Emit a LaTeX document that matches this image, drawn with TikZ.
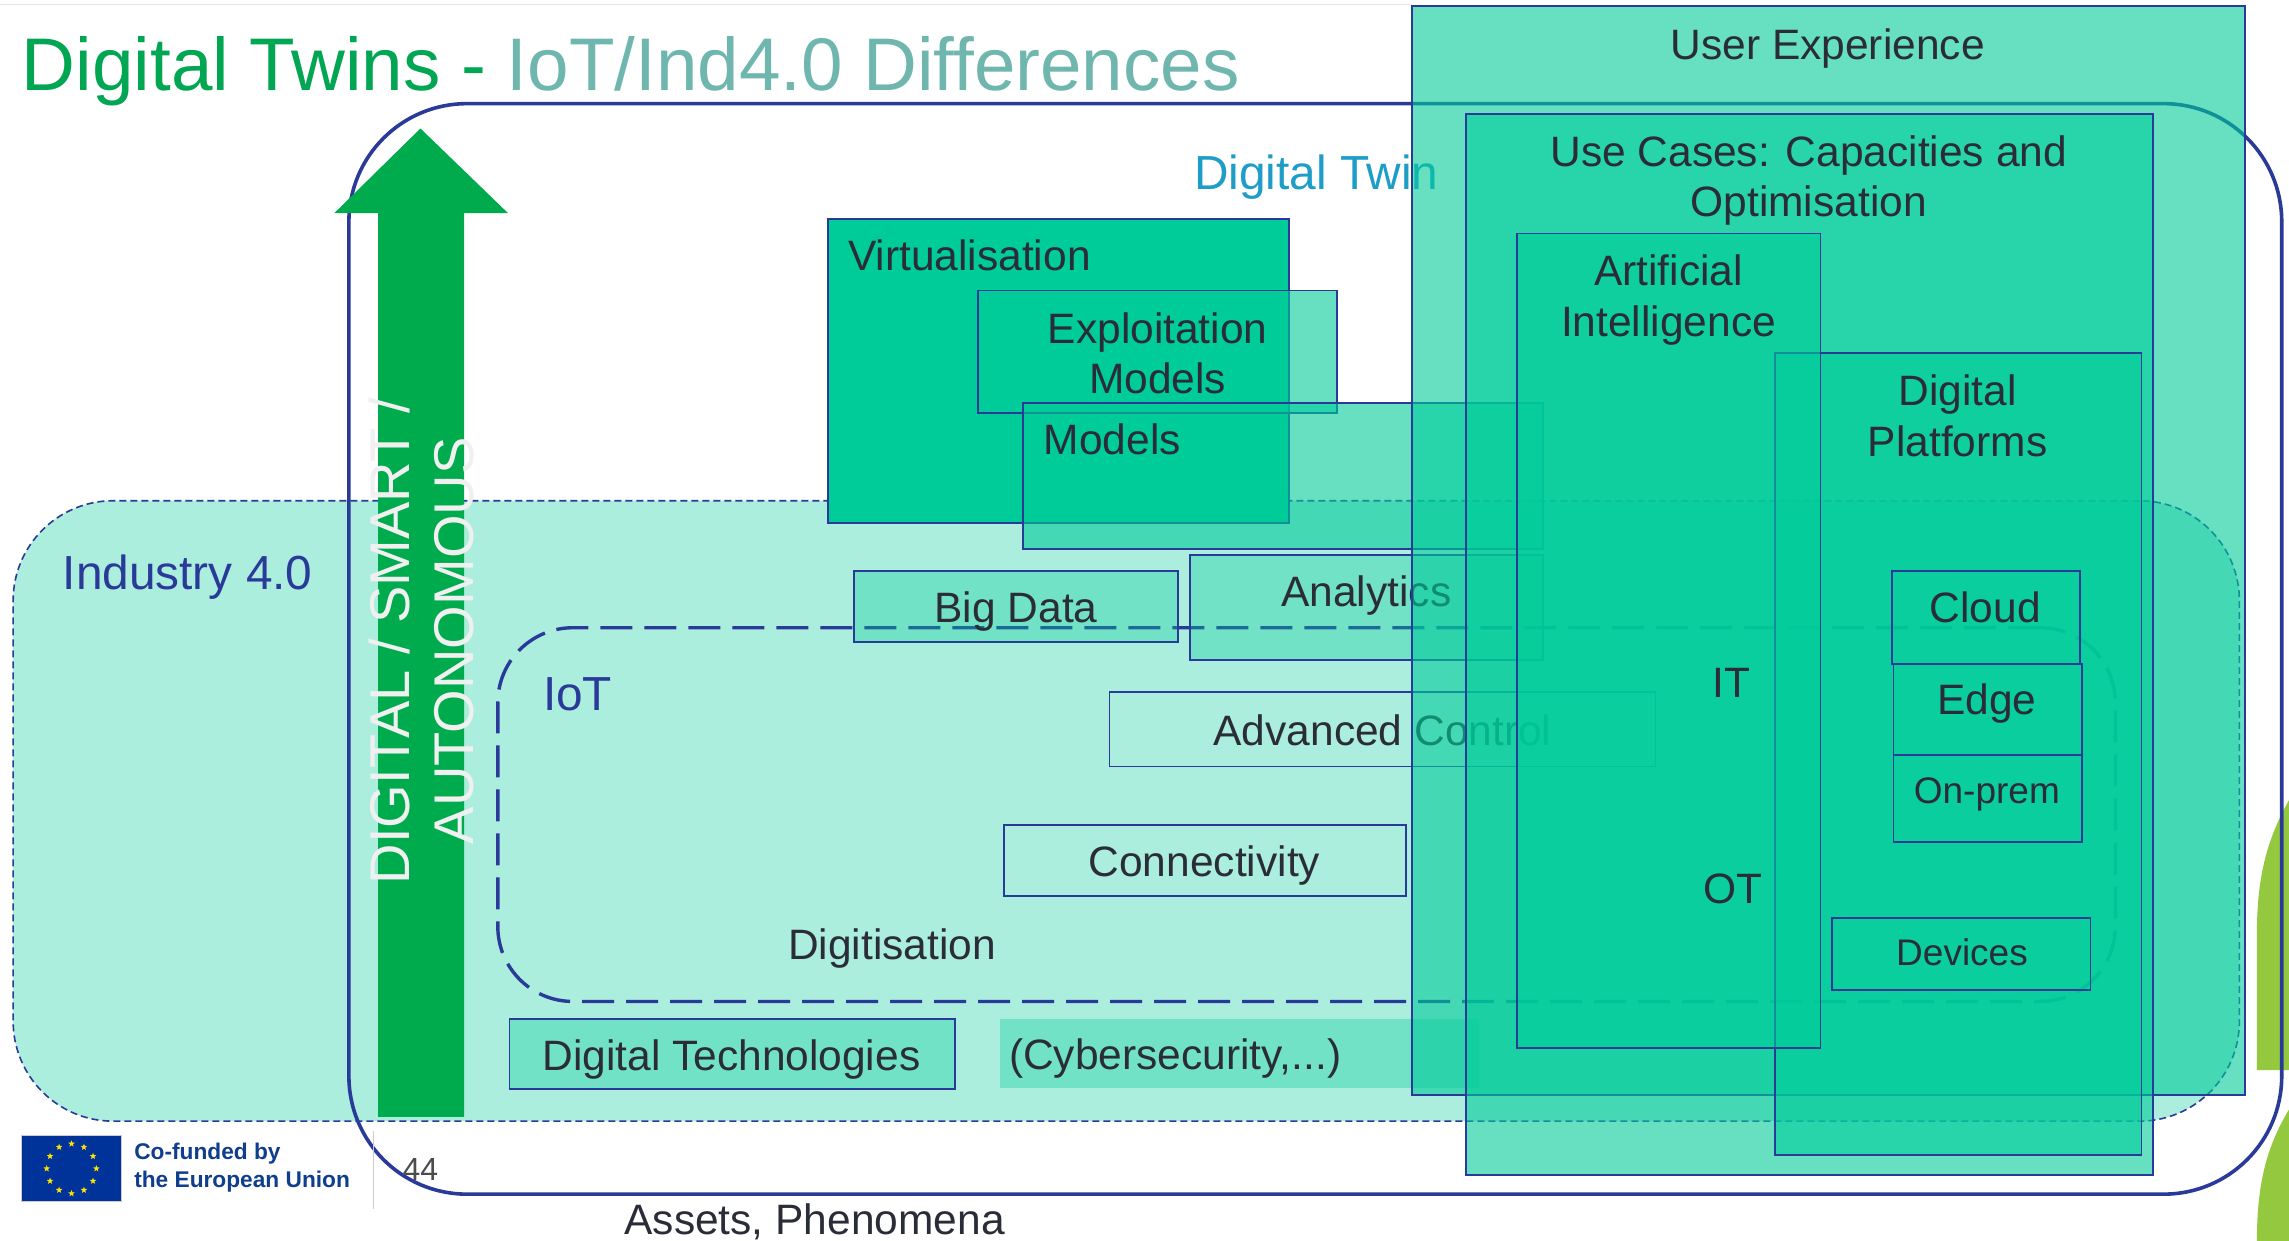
\documentclass[tikz,border=0pt]{standalone}
\usepackage{fontspec}
\setmainfont{Liberation Sans}
\usetikzlibrary{shapes.geometric}
\definecolor{tealfill}{HTML}{00CC99}
\definecolor{indfill}{HTML}{ABEEDD}
\definecolor{navy}{HTML}{2A3A98}
\definecolor{ink}{HTML}{2A2D38}
\definecolor{arrowgreen}{HTML}{00AB4E}
\definecolor{leaf}{HTML}{93C83F}
\definecolor{titlegreen}{HTML}{00A651}
\definecolor{titleteal}{HTML}{6FB7AE}
\definecolor{twinblue}{HTML}{1E9DC8}
\definecolor{eublue}{HTML}{003399}
\definecolor{eutext}{HTML}{103E8F}
\newcommand{\fsz}[1]{\fontsize{#1}{#1}\selectfont}
\newcommand{\bx}[6]{% name,x0,y0,x1,y1,style
  \pgfmathsetmacro{\bw}{(#4-#2)*1.4598}\pgfmathsetmacro{\bh}{(#5-#3)*1.4598}
  \node[#6,anchor=north west,minimum width=\bw pt,minimum height=\bh pt] (#1) at (#2,#3) {};}
\tikzset{
  x=1.4598pt,y=-1.4598pt,
  every node/.style={inner sep=0pt,outer sep=0pt},
  boxline/.style={draw=navy,line width=1.8pt},
  solidbox/.style={boxline,fill=tealfill},
  glassbox/.style={boxline,fill=tealfill,fill opacity=0.6},
  softbox/.style={boxline,fill=tealfill,fill opacity=0.33},
  openbox/.style={boxline},
  lab/.style={text=ink,align=center,font=\fontsize{42.5}{50.5}\selectfont},
  smalllab/.style={text=ink,align=center,font=\fsz{37}},
}
\begin{document}
\begin{tikzpicture}
\useasboundingbox (0,0) rectangle (1568,850);
\fill[white] (0,0) rectangle (1568,850);
\draw[black!10,line width=1pt] (0,3) -- (967,3);
% decorative leaves
\fill[leaf] (1568,548) .. controls (1553,575) and (1546,600) .. (1546,640) -- (1546,733) -- (1568,733) -- cycle;
\fill[leaf] (1568,760) .. controls (1553,785) and (1546,810) .. (1546,850) -- (1568,850) -- cycle;
% Industry 4.0
\bx{ind}{9}{343}{1534}{768}{draw=navy,line width=1.6pt,dash pattern=on 7pt off 4pt,fill=indfill,rounded corners=100pt}
% outer Digital Twin frame
\bx{dt}{239}{71}{1563}{818}{draw=navy,line width=3.6pt,rounded corners=118pt}
% IoT
\bx{iot}{341}{430}{1449}{686}{draw=navy,line width=3.4pt,dash pattern=on 32pt off 12pt,rounded corners=75pt}
% arrow
\fill[arrowgreen] (288,88) -- (348,146) -- (318,146) -- (318,765) -- (259,765) -- (259,146) -- (229,146) -- cycle;
\node[rotate=90,text=black!6,align=center,font=\fontsize{56}{64}\selectfont] (arrowtext) at (289,439) {DIGITAL / SMART /\\AUTONOMOUS};
% title
\node[anchor=base west,font=\fsz{74.6}] (title) at (15,62) {\textcolor{titlegreen}{Digital Twins - }\textcolor{titleteal}{IoT/Ind4.0 Differences}};
\node[anchor=base west,text=navy,font=\fsz{47.8}] (indlab) at (43,404) {Industry 4.0};
\node[anchor=base west,text=navy,font=\fsz{47.8}] (iotlab) at (372,487) {IoT};
\node[anchor=base west,text=twinblue,font=\fsz{47.8}] (twinlab) at (818,130) {Digital Twin};
% left boxes
\bx{virt}{567}{150}{883}{358}{solidbox}
\bx{expl}{670}{199}{916}{283}{glassbox}
\bx{mods}{701}{276}{1057}{376}{glassbox}
\bx{big}{585}{391}{807}{440}{softbox}
\bx{ana}{815}{380}{1057}{452}{softbox}
\bx{adv}{760}{474}{1134}{525}{openbox}
\bx{con}{688}{565}{963}{614}{openbox}
\bx{tech}{349}{698}{654}{746}{softbox}
\bx{cyb}{685}{698}{1013}{745}{fill=tealfill,fill opacity=0.33}
\node[lab,anchor=base west] (virtt) at (581,185) {Virtualisation};
\node[lab] (explt) at (793,242) {Exploitation\\Models};
\node[lab,anchor=base west] (modst) at (715,311) {Models};
\node[lab] (bigt) at (696,419) {Big Data};
\node[lab] (anat) at (936,408) {Analytics};
\node[lab] (advt) at (947,500) {Advanced Control};
\node[lab] (cont) at (825,593) {Connectivity};
\node[lab] (techt) at (501,726) {Digital Technologies};
\node[lab] (cybt) at (805,725) {(Cybersecurity,...)};
\node[lab] (digt) at (611,650) {Digitisation};
% right stack
\bx{ux}{967}{4}{1538}{750}{glassbox}
\bx{uc}{1004}{78}{1475}{805}{glassbox}
\bx{dp}{1216}{242}{1467}{791}{glassbox}
\bx{ai}{1039}{160}{1247}{718}{glassbox}
\node[lab] (uxt) at (1252,33) {User Experience};
\node[lab] (uct) at (1239,123.5) {Use Cases: Capacities and\\Optimisation};
\node[lab] (ait) at (1143,205.5) {Artificial\\Intelligence};
\node[lab] (dpt) at (1341,285) {Digital\\Platforms};
\node[lab] (itt) at (1186,468) {IT};
\node[lab] (ott) at (1187,609) {OT};
\bx{cloud}{1296}{391}{1425}{455}{openbox}
\bx{edge}{1297}{455}{1426}{517}{openbox}
\bx{onp}{1297}{517}{1426}{577}{openbox}
\bx{dev}{1255}{629}{1432}{678}{openbox}
\node[lab] (cloudt) at (1360,416) {Cloud};
\node[lab] (edget) at (1361,482) {Edge};
\node[smalllab] (onpt) at (1361,544) {On-prem};
\node[smalllab] (devt) at (1344,652) {Devices};
% footer
\bx{flag}{15}{778}{83}{823}{draw=black!20,line width=1pt,fill=eublue}
\foreach \i in {0,...,11}{
  \node[star,star points=5,star point ratio=2.4,fill=yellow!85!orange,minimum size=7pt] (st\i) at ({49+17*sin(30*\i)},{800.5-17*cos(30*\i)}) {};
}
\node[anchor=west,text=eutext,align=left,font=\fontsize{22.7}{28}\selectfont\bfseries] (eu) at (92,800) {Co-funded by\\the European Union};
\coordinate (divtop) at (256,775);
\coordinate (divbot) at (256,828);
\draw[black!20,line width=1.5pt] (divtop) -- (divbot);
\node[text=black!70,font=\fsz{32}] (pg) at (288,801) {44};
\node[lab] (assets) at (558,837) {Assets, Phenomena};
\end{tikzpicture}
\end{document}
